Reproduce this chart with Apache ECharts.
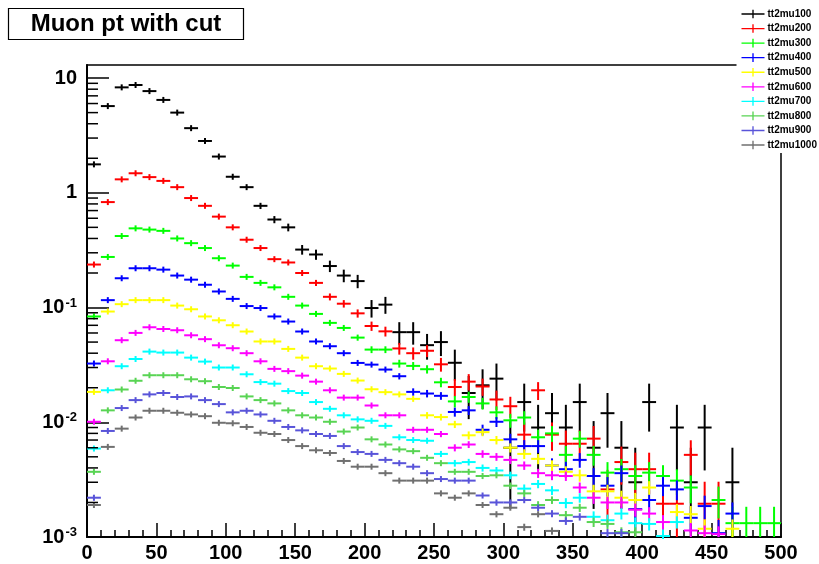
<!DOCTYPE html>
<html>
<head>
<meta charset="utf-8">
<script src="https://cdn.jsdelivr.net/npm/echarts@6/dist/echarts.min.js"></script>
<style>
html,body{margin:0;padding:0;background:#fff;}
#chart{width:819px;height:564px;}
</style>
</head>
<body>
<div id="chart"></div>
<script>
// ---- data ----
const chartTitle = 'Muon pt with cut';
const seriesNames = ['tt2mu100','tt2mu200','tt2mu300','tt2mu400','tt2mu500','tt2mu600','tt2mu700','tt2mu800','tt2mu900','tt2mu1000'];
const seriesColors = ['#000000','#ff0000','#00ff00','#0000ff','#ffff00','#ff00ff','#00ffff','#59d454','#5954d9','#707070'];
const binWidth = 10;
const xTicks = [0,50,100,150,200,250,300,350,400,450,500];
const yMinorTicks = [0.002,0.003,0.004,0.005,0.006,0.007,0.008,0.009,
  0.02,0.03,0.04,0.05,0.06,0.07,0.08,0.09,
  0.2,0.3,0.4,0.5,0.6,0.7,0.8,0.9,
  2,3,4,5,6,7,8,9];
// per-event weight, used for the statistical error bars
const eventWeight = [0.003,0.0006,0.0002,0.0001,0.00005,0.00003,0.00002,0.000012,0.000008,0.000006];

const mu100 = [1.77,5.7,8.3,8.7,7.7,6.45,5.0,3.66,2.83,2.07,
  1.38,1.12,0.77,0.585,0.50,0.32,0.29,0.23,0.19,0.17,
  0.099,0.106,0.061,0.061,0.047,0.050,0.033,0.018,0.021,0.024,
  0.006,0.015,0.009,0.012,0.009,0.015,0.006,0.012,0.006,0.003,
  0.015,null,0.009,0.003,0.009,null,0.003,null,null,null];
const mu200 = [0.237,0.83,1.31,1.48,1.37,1.27,1.12,0.90,0.77,0.62,
  0.50,0.39,0.33,0.264,0.247,0.20,0.164,0.124,0.108,0.089,
  0.069,0.062,0.044,0.040,0.042,0.032,0.0203,0.0226,0.0205,0.0158,
  0.0138,0.0078,0.019,0.0078,0.0065,0.0065,0.0072,0.0026,0.0045,0.0039,
  0.0039,0.00195,0.00195,0.0052,0.00195,0.00195,null,null,null,null];
const mu300 = [0.0836,0.276,0.42,0.49,0.478,0.466,0.40,0.364,0.33,0.269,
  0.232,0.185,0.164,0.150,0.124,0.104,0.088,0.0735,0.0664,0.0547,
  0.043,0.043,0.0325,0.031,0.029,0.0223,0.0152,0.0166,0.0146,0.0122,
  0.0104,0.011,0.0074,0.008,0.0052,0.0072,0.0052,0.00364,0.0039,0.0034,
  0.00364,0.0034,0.0031,0.0027,null,0.0021,0.00132,0.00132,0.00132,0.00132];
const mu400 = [0.0325,0.116,0.18,0.22,0.22,0.214,0.19,0.175,0.158,0.138,
  0.119,0.103,0.099,0.0836,0.0755,0.0618,0.0506,0.046,0.040,0.0329,
  0.0318,0.0288,0.0252,0.0184,0.0178,0.0170,0.0123,0.0127,0.0086,0.0101,
  0.0071,0.0062,0.0062,0.0042,0.0039,0.0047,0.0034,0.0028,0.0036,0.00175,
  0.0021,0.0028,0.0026,0.00147,0.00186,0.00108,0.0016,null,null,null];
const mu500 = [0.0184,0.0923,0.107,0.116,0.116,0.116,0.104,0.0966,0.0836,0.0774,
  0.0701,0.0618,0.0506,0.0506,0.0436,0.0366,0.0308,0.0294,0.0264,0.0231,
  0.0194,0.0183,0.0175,0.0160,0.0115,0.0111,0.0096,0.0077,0.0082,0.0070,
  0.0060,0.0053,0.0048,0.0042,0.0037,0.00345,0.0025,0.0025,0.0022,0.0021,
  0.0027,null,0.00165,0.00158,0.00118,null,0.00118,null,null,null];
const mu600 = [0.0101,0.034,0.0519,0.0601,0.0673,0.065,0.0634,0.0573,0.053,0.0469,
  0.0442,0.040,0.034,0.0292,0.0279,0.0255,0.0226,0.019,0.0164,0.0164,
  0.014,0.0115,0.0115,0.0086,0.0086,0.0079,0.0060,0.0064,0.0053,0.0050,
  0.0047,0.0042,0.0036,0.00345,0.0034,0.0027,0.0022,0.0020,0.0020,0.00173,
  0.0016,0.00135,null,0.00114,0.00108,0.00106,null,null,null,null];
const mu700 = [0.0059,0.019,0.0308,0.0356,0.0413,0.0405,0.0405,0.0366,0.0338,0.030,
  0.030,0.0262,0.0224,0.0217,0.0187,0.018,0.015,0.0131,0.0115,0.0106,
  0.0103,0.0093,0.0074,0.0070,0.0069,0.0053,0.0044,0.0045,0.0040,0.0038,
  0.00345,0.00264,0.0029,0.00255,0.00198,0.0022,0.0015,0.0014,0.0016,0.00132,
  0.0013,0.00102,0.00135,null,null,null,null,null,null,null];
const mu800 = [0.0037,0.0127,0.0193,0.023,0.0257,0.0257,0.0257,0.0237,0.0228,0.0203,
  0.0199,0.0168,0.0156,0.0146,0.0127,0.0115,0.011,0.0101,0.0083,0.009,
  0.0071,0.0064,0.0058,0.0056,0.0049,0.0044,0.0037,0.0037,0.0034,0.00345,
  0.0028,0.0024,0.0019,0.0021,0.00155,0.0018,0.00135,0.0013,0.0011,0.0011,
  null,null,null,null,null,null,null,null,null,null];
const mu900 = [0.0022,0.0084,0.0133,0.0156,0.0175,0.018,0.0166,0.0168,0.0156,0.0144,
  0.0122,0.0126,0.0117,0.0103,0.0091,0.0085,0.0079,0.0076,0.0062,0.0055,
  0.0053,0.0047,0.0044,0.0041,0.0036,0.0032,0.0031,0.0031,0.0023,0.0020,
  0.0020,0.0021,0.0018,0.0016,0.00138,0.0015,null,0.00108,0.00108,null,
  null,null,null,null,null,null,null,null,null,null];
const mu1000 = [0.0019,0.0061,0.0088,0.011,0.0126,0.0126,0.0121,0.0117,0.0113,0.0099,
  0.0098,0.0091,0.0081,0.0079,0.0070,0.0062,0.0057,0.0054,0.0046,0.0041,
  0.0041,0.0036,0.0031,0.0031,0.0031,0.0024,0.0022,0.0024,0.0019,0.00158,
  0.0018,0.00122,0.00158,0.00113,null,null,null,null,null,null,
  null,null,null,null,null,null,null,null,null,null];
const allValues = [mu100,mu200,mu300,mu400,mu500,mu600,mu700,mu800,mu900,mu1000];

// ---- chart ----
const yMin = 0.001, yMax = 13;
const FONT = '"Liberation Sans", Arial, Helvetica, sans-serif';

function histRender(params, api) {
  const x0 = api.value(0), x1 = api.value(1), v = api.value(2), e = api.value(3);
  const color = api.visual('color');
  const xc = (x0 + x1) / 2;
  const pL = api.coord([x0, v]);
  const pR = api.coord([x1, v]);
  const pC = api.coord([xc, v]);
  const hi = Math.min(v + e, yMax);
  const lo = (v - e) > yMin ? (v - e) : yMin;
  const pT = api.coord([xc, hi]);
  const pB = api.coord([xc, lo]);
  const top = Math.min(pT[1], pC[1] - 3);
  const bot = Math.max(pB[1], pC[1] + 3);
  return {
    type: 'group',
    children: [
      {type: 'line', shape: {x1: pL[0], y1: pC[1], x2: pR[0], y2: pC[1]}, style: {stroke: color, lineWidth: 2}},
      {type: 'line', shape: {x1: pC[0], y1: top, x2: pC[0], y2: bot}, style: {stroke: color, lineWidth: 2}}
    ]
  };
}

const series = seriesNames.map((name, s) => {
  const data = [];
  allValues[s].forEach((v, i) => {
    if (v == null) return;
    data.push([i * binWidth, (i + 1) * binWidth, v, Math.sqrt(v * eventWeight[s])]);
  });
  return {
    name: name,
    type: 'custom',
    renderItem: histRender,
    itemStyle: {color: seriesColors[s]},
    encode: {x: [0, 1], y: 2},
    data: data,
    silent: true,
    z: 2
  };
});

// minor log ticks on the y axis (ROOT style 2..9 per decade)
series.push({
  name: 'minorTicks',
  type: 'custom',
  silent: true,
  z: 3,
  encode: {x: 0, y: 1},
  data: yMinorTicks.map(v => [0, v]),
  renderItem: function (params, api) {
    const p = api.coord([0, api.value(1)]);
    return {type: 'line', shape: {x1: p[0], y1: p[1], x2: p[0] + 11, y2: p[1]},
      style: {stroke: '#000', lineWidth: 1.5}};
  }
});

const chart = echarts.init(document.getElementById('chart'), null, {renderer: 'canvas'});
chart.setOption({
  animation: false,
  backgroundColor: '#ffffff',
  color: seriesColors,
  grid: {left: 87, right: 38, top: 65, bottom: 27, show: true, borderColor: '#000', borderWidth: 1.5, backgroundColor: 'transparent'},
  xAxis: {
    type: 'value', min: xTicks[0], max: xTicks[xTicks.length - 1], interval: xTicks[1] - xTicks[0],
    axisLine: {show: true, onZero: false, lineStyle: {color: '#000', width: 2}},
    axisTick: {show: true, inside: true, length: 14, lineStyle: {color: '#000', width: 1.5}},
    minorTick: {show: true, splitNumber: 5, length: 7, lineStyle: {color: '#000', width: 1.5}},
    splitLine: {show: false},
    axisLabel: {color: '#000', fontSize: 20, fontWeight: 'bold', fontFamily: FONT, margin: 6,
      showMinLabel: true, showMaxLabel: true}
  },
  yAxis: {
    type: 'log', logBase: 10, min: yMin, max: yMax,
    axisLine: {show: true, lineStyle: {color: '#000', width: 2}},
    axisTick: {show: true, inside: true, length: 22, lineStyle: {color: '#000', width: 1.5}},
    splitLine: {show: false},
    axisLabel: {
      color: '#000', fontFamily: FONT, margin: 10, showMaxLabel: false,
      formatter: function (v) {
        if (v > yMax * 0.99) return '';
        const p = Math.round(Math.log10(v));
        if (p >= 0) return '{b|' + Math.round(Math.pow(10, p)) + '}';
        return '{b|10}{s|' + p + '}';
      },
      rich: {
        b: {fontSize: 20, fontWeight: 'bold', fontFamily: FONT, color: '#000', lineHeight: 22},
        s: {fontSize: 13, fontWeight: 'bold', fontFamily: FONT, color: '#000', verticalAlign: 'top', lineHeight: 12, padding: [0, 0, 6, 1]}
      }
    }
  },
  legend: {
    data: seriesNames,
    orient: 'vertical',
    left: 736.5,
    top: 0,
    padding: [9, 20, 3, 5],
    backgroundColor: '#ffffff',
    borderWidth: 0,
    itemWidth: 23,
    itemHeight: 10,
    itemGap: 4.56,
    icon: 'path://M0,4.3H24V5.7H0Z M11.3,0.5H12.7V9.5H11.3Z',
    selectedMode: false,
    textStyle: {fontSize: 10, fontWeight: 'bold', fontFamily: FONT, color: '#000', padding: [0, 0, 0, -2]}
  },
  graphic: [
    {type: 'rect', x: 8.5, y: 8.5, z: 10,
      shape: {x: 0, y: 0, width: 235, height: 31}, style: {fill: '#fff', stroke: '#000', lineWidth: 1.2}},
    {type: 'text', z: 11, x: 126, y: 24.5,
      style: {text: chartTitle, font: 'bold 24px ' + FONT, fill: '#000', align: 'center', verticalAlign: 'middle'}}
  ],
  series: series
});
</script>
</body>
</html>
